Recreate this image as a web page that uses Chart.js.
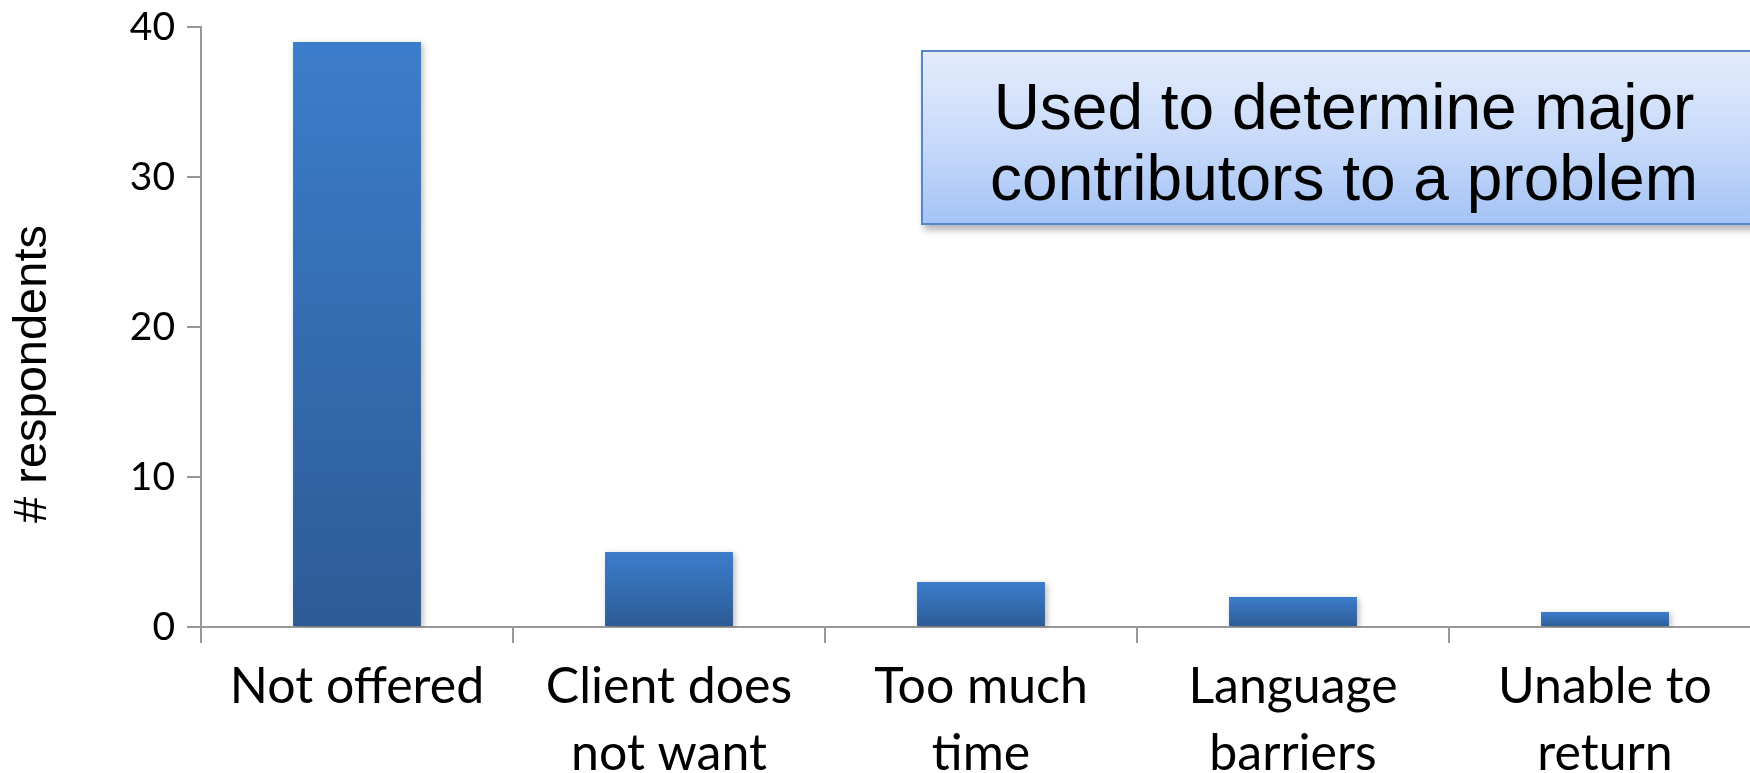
<!DOCTYPE html>
<html>
<head>
<meta charset="utf-8">
<script src="https://cdn.jsdelivr.net/npm/chart.js@4"></script>
<style>
  html, body { margin: 0; padding: 0; background: #fff; overflow: hidden; width: 1750px; height: 773px; }
  #wrap { position: absolute; left: 0; top: 0; width: 1762px; height: 773px; }
  #note {
    position: absolute; left: 921px; top: 50px; width: 846px; height: 175px;
    border: 2px solid #5887c9;
    background: linear-gradient(to bottom, #e3ecfc 0%, #c9dbfa 50%, #a5c3f5 100%);
    box-shadow: 3px 5px 7px rgba(0,0,0,0.3);
    font-family: "Liberation Sans", Arial, sans-serif; font-size: 64px; line-height: 71px;
    text-align: center; color: #000; box-sizing: border-box; padding-top: 20px;
  }
</style>
</head>
<body>
<div id="wrap"><canvas id="chart" width="1762" height="773"></canvas></div>
<div id="note">Used to determine major<br>contributors to a problem</div>
<script>
// chart data
const categories = [["Not offered"], ["Client does", "not want"], ["Too much", "time"], ["Language", "barriers"], ["Unable to", "return"]];
const respondents = [39, 5, 3, 2, 1];
const yTicks = [0, 10, 20, 30, 40];
const yTitle = "# respondents";

function barGradient(context) {
  const chart = context.chart;
  const { chartArea, scales } = chart;
  if (!chartArea || !scales.y) return "#3a7bc8";
  const top = scales.y.getPixelForValue(context.raw);
  const bottom = scales.y.getPixelForValue(0);
  const g = chart.ctx.createLinearGradient(0, top, 0, bottom);
  g.addColorStop(0, "#3c7dcb");
  g.addColorStop(1, "#2d5b96");
  return g;
}

// faint drop shadow behind the bars
const barShadow = {
  id: "barShadow",
  beforeDatasetsDraw(chart) {
    const c = chart.ctx;
    c.save();
    c.shadowColor = "rgba(0,0,0,0.28)";
    c.shadowBlur = 6;
    c.shadowOffsetX = 2;
    c.shadowOffsetY = 2;
  },
  afterDatasetsDraw(chart) {
    chart.ctx.restore();
  }
};

// y axis title, sits a bit below the middle of the axis like the original
const axisTitle = {
  id: "axisTitle",
  afterDraw(chart) {
    const c = chart.ctx;
    c.save();
    c.translate(33, 374);
    c.rotate(-Math.PI / 2);
    c.font = "47px 'Liberation Sans', Arial, sans-serif";
    c.fillStyle = "#000";
    c.textAlign = "center";
    c.textBaseline = "middle";
    c.fillText(yTitle, 0, 0);
    c.restore();
  }
};

const ctx = document.getElementById("chart").getContext("2d");
new Chart(ctx, {
  type: "bar",
  data: {
    labels: categories,
    datasets: [{
      label: yTitle,
      data: respondents,
      backgroundColor: barGradient,
      borderWidth: 0,
      barPercentage: 0.41,
      categoryPercentage: 1.0
    }]
  },
  plugins: [barShadow, axisTitle],
  options: {
    responsive: false,
    animation: false,
    layout: { padding: { top: 27, right: 1, left: 0, bottom: 0 } },
    plugins: { legend: { display: false }, tooltip: { enabled: false } },
    scales: {
      x: {
        grid: { offset: true, drawOnChartArea: false, drawTicks: true, tickLength: 16, color: "#989898", lineWidth: 2 },
        border: { color: "#989898", width: 2 },
        ticks: {
          color: "#000",
          font: { family: "Lato, 'Open Sans', sans-serif", size: 50, lineHeight: 1.34 },
          padding: 10,
          maxRotation: 0,
          autoSkip: false
        },
        afterFit(scale) { scale.height = 146; }
      },
      y: {
        min: 0,
        max: 40,
        afterBuildTicks(scale) { scale.ticks = yTicks.map(v => ({ value: v })); },
        grid: { drawOnChartArea: false, drawTicks: true, tickLength: 14, color: "#989898", lineWidth: 2 },
        border: { color: "#989898", width: 2 },
        ticks: {
          color: "#000",
          font: { family: "Lato, 'Open Sans', sans-serif", size: 39, lineHeight: 0.7 },
          padding: 12
        },
        afterFit(scale) { scale.width = 201; }
      }
    }
  }
});
</script>
</body>
</html>
